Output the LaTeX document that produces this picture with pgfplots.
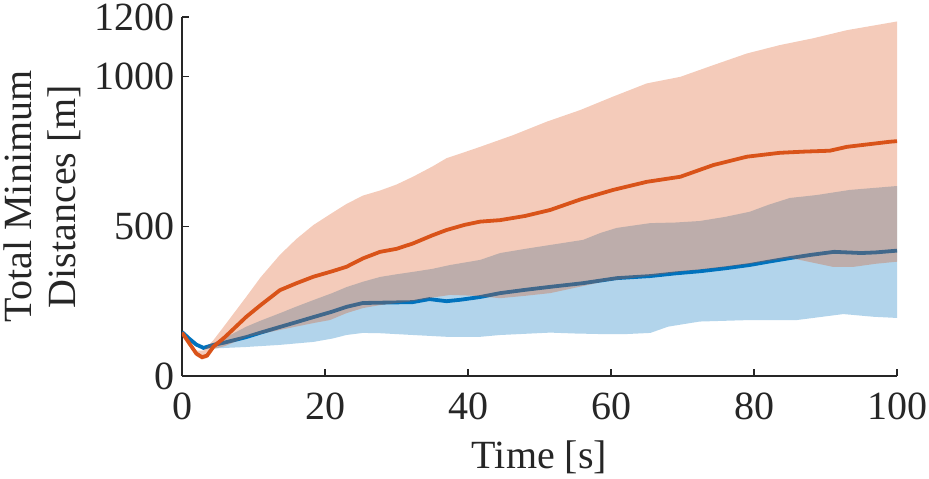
\documentclass[border=0pt]{standalone}
\usepackage{fontspec}
\setmainfont{Liberation Serif}
\usepackage{pgfplots}
\pgfplotsset{compat=1.18}
\definecolor{mblue}{rgb}{0,0.447,0.741}
\definecolor{morange}{rgb}{0.85,0.325,0.098}
\definecolor{axgray}{RGB}{38,38,38}
\begin{document}
\begin{tikzpicture}
\begin{axis}[
  scale only axis,
  width=357.5pt, height=179.5pt,
  xmin=0, xmax=100, ymin=0, ymax=1200,
  axis lines*=left,
  axis line style={axgray, line width=0.6pt},
  tick align=inside,
  major tick length=3.5pt,
  tick style={axgray, line width=0.6pt},
  xtick={0,20,40,60,80,100},
  ytick={0,500,1000,1200},
  font=\fontsize{20}{22}\selectfont,
  /pgf/number format/assume math mode=true,
  /pgf/number format/1000 sep={},
  ticklabel style={text=axgray},
  xticklabel style={yshift=-5pt},
  xlabel={Time [s]},
  ylabel={Total Minimum\\Distances [m]},
  ylabel style={align=center, text=axgray},
  xlabel style={text=axgray, yshift=-3.5pt},
  clip=true,
]
% blue band
\addplot[fill=mblue, fill opacity=0.3, draw=none] coordinates {
(0,147) (2,110) (3,98) (4.4,110) (7,140) (9,165) (11,185) (13.7,210) (16,232) (18.4,254) (21,277) (23,297) (25.3,315) (27.7,331) (30,340) (32.3,348) (35,358) (37.5,371) (41.7,388) (44.5,411) (48,425) (51.5,438) (56.1,455) (58.5,478) (60.8,495) (65.5,511) (69,513) (72.4,518) (76,532) (79.4,549) (82,572) (85,595) (88.8,605) (93.4,622) (100,635)
(100,194) (96.7,198) (92.5,207) (86,187) (79.4,187) (72.4,182) (68,165) (65.5,144) (62,140) (58.9,140) (55,142) (51.5,145) (44.5,137) (41.7,131) (37,131) (32.3,137) (27.7,143) (25.3,144) (23,137) (21,125) (18.4,114) (13.7,104) (9,97) (4.4,92) (3,92) (2,103) (0,147)} -- cycle;
% blue mean
\addplot[mblue, line width=1.9pt] coordinates {
(0,147) (1,125) (2,105) (3,94) (4.4,104) (6,112) (9,130) (11,145) (13.7,164) (16,180) (18.4,197) (21,215) (23,231) (25.3,244) (27.7,245) (30,246) (32.3,247) (34.6,257) (37,250) (39,255) (41.7,264) (44.5,277) (48,288) (51.5,298) (56,310) (60.8,327) (65.5,334) (69,343) (72.4,350) (76,360) (79.4,371) (82,382) (85,394) (88,405) (91.2,415) (95,411) (97,413) (100,419)};
% orange band
\addplot[fill=morange, fill opacity=0.3, draw=none] coordinates {
(0,145) (2,85) (3,85) (4.4,120) (6,170) (9,265) (11,330) (13.7,405) (16,458) (18.4,505) (21,545) (23,575) (25.3,603) (27.7,620) (30,640) (32.3,666) (35,700) (37,728) (39.5,748) (41.7,766) (46.3,805) (51,850) (55.7,889) (60.3,934) (65,978) (69.7,1000) (74.3,1039) (79,1078) (83.6,1106) (88.3,1129) (93,1156) (100,1185)
(100,382) (97,375) (94,365) (91,365) (88,380) (85,395) (79.4,375) (75,362) (70,350) (65.5,335) (62,325) (58.9,315) (55,295) (51.5,277) (48,268) (44.5,260) (41,268) (37.5,271) (35,262) (32.3,250) (27.7,237) (25.3,227) (23,210) (20.7,187) (18.4,177) (13.7,154) (9,130) (6,100) (4.4,90) (3.5,60) (2.8,55) (2,66) (0,145)} -- cycle;
% orange mean
\addplot[morange, line width=1.9pt] coordinates {
(0,145) (1,110) (2,75) (2.8,63) (3.5,68) (4.4,98) (6,130) (9,198) (11,237) (13.7,287) (16,310) (18.4,332) (21,350) (23,365) (25.3,393) (27.7,415) (30,425) (32.3,443) (35,470) (37,488) (39.5,505) (41.7,516) (44.5,521) (48,535) (51.5,555) (55.7,590) (60.3,622) (65,649) (69.7,666) (74.3,705) (79,733) (83.6,746) (87,750) (90.6,753) (93,766) (99,783) (100,785)};
\end{axis}
\pgfresetboundingbox
\path[use as bounding box] ([xshift=-91pt,yshift=-51.5pt]current axis.south west) rectangle ([xshift=16pt,yshift=8.5pt]current axis.north east);
\end{tikzpicture}
\end{document}
